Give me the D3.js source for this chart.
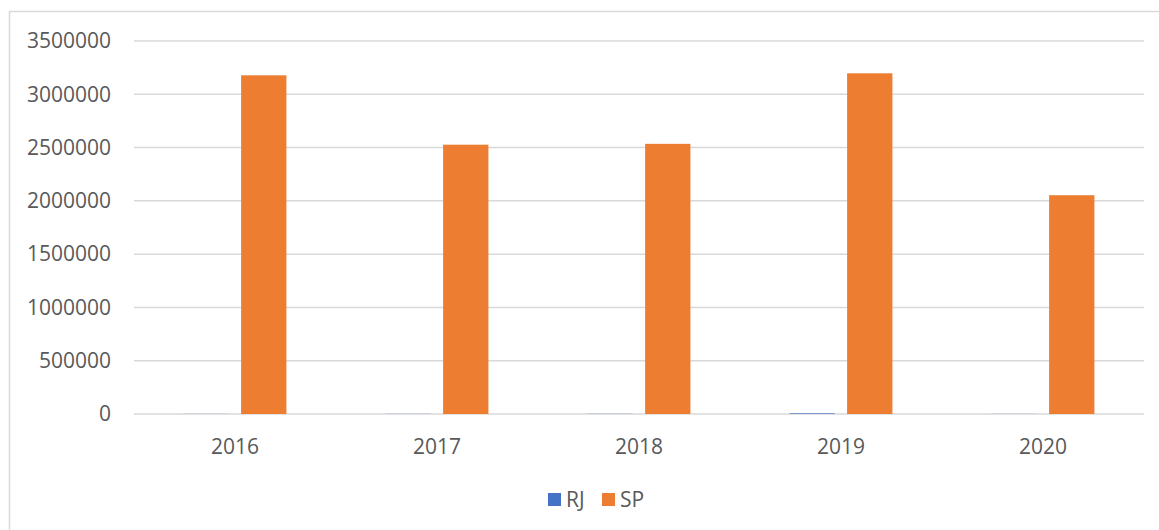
<!DOCTYPE html>
<html>
<head>
<meta charset="utf-8">
<script src="https://cdn.jsdelivr.net/npm/d3@7"></script>
<style>
  body { margin: 0; background: #fff; }
  svg text { font-family: "Open Sans", sans-serif; fill: #595959; }
</style>
</head>
<body>
<div id="chart"></div>
<script>
// dados
var anos = ["2016", "2017", "2018", "2019", "2020"];
var series = ["RJ", "SP"];
var valoresRJ = [1000, 1200, 1500, 6000, 1000];
var valoresSP = [3178000, 2527000, 2535000, 3197000, 2053000];
var ticksY = [0, 500000, 1000000, 1500000, 2000000, 2500000, 3000000, 3500000];
var cores = ["#4472C4", "#ED7D31"];

function init() {
  var w = 1159;
  var h = 530;
  var margin = { left: 134, right: 15, top: 41, bottom: 116 };

  var svg = d3.select("#chart")
    .append("svg")
    .attr("width", w)
    .attr("height", h);

  // moldura do gráfico
  svg.append("rect")
    .attr("x", 9.5)
    .attr("y", 11.5)
    .attr("width", w + 10)
    .attr("height", h + 10)
    .attr("fill", "none")
    .attr("stroke", "#d9d9d9")
    .attr("stroke-width", 1.5);

  var x = d3.scaleBand()
    .domain(anos)
    .range([margin.left, w - margin.right]);

  var y = d3.scaleLinear()
    .domain([0, 3500000])
    .range([h - margin.bottom, margin.top]);

  // linhas de grade
  svg.selectAll("line.grade")
    .data(ticksY)
    .enter()
    .append("line")
    .attr("class", "grade")
    .attr("x1", margin.left)
    .attr("x2", w - margin.right)
    .attr("y1", function(d) { return y(d); })
    .attr("y2", function(d) { return y(d); })
    .attr("stroke", "#d9d9d9")
    .attr("stroke-width", 1.5);

  // rótulos do eixo y
  svg.selectAll("text.eixoY")
    .data(ticksY)
    .enter()
    .append("text")
    .attr("class", "eixoY")
    .text(function(d) { return d; })
    .attr("x", 111)
    .attr("y", function(d) { return y(d); })
    .attr("dy", "0.35em")
    .attr("text-anchor", "end")
    .attr("font-size", "21px");

  // barras (gap 219%, overlap -27%)
  var bw = x.bandwidth() / 4.46;
  var offs = [x.bandwidth() / 2 - 1.135 * bw, x.bandwidth() / 2 + 0.135 * bw];
  var dados = [valoresRJ, valoresSP];

  dados.forEach(function(vals, s) {
    svg.selectAll("rect.s" + s)
      .data(vals)
      .enter()
      .append("rect")
      .attr("class", "s" + s)
      .attr("x", function(d, i) { return x(anos[i]) + offs[s]; })
      .attr("y", function(d) { return y(d); })
      .attr("width", bw)
      .attr("height", function(d) { return y(0) - y(d); })
      .attr("fill", cores[s]);
  });

  // rótulos do eixo x
  svg.selectAll("text.eixoX")
    .data(anos)
    .enter()
    .append("text")
    .attr("class", "eixoX")
    .text(function(d) { return d; })
    .attr("x", function(d) { return x(d) + x.bandwidth() / 2; })
    .attr("y", 454)
    .attr("text-anchor", "middle")
    .attr("font-size", "21px");

  // legenda
  var leg = svg.append("g");
  var posLeg = [548, 602];
  series.forEach(function(nome, i) {
    leg.append("rect")
      .attr("x", posLeg[i])
      .attr("y", 493)
      .attr("width", 13)
      .attr("height", 13)
      .attr("fill", cores[i]);
    leg.append("text")
      .text(nome)
      .attr("x", posLeg[i] + 18)
      .attr("y", 507)
      .attr("font-size", "21px");
  });
}
window.onload = init;
</script>
</body>
</html>
